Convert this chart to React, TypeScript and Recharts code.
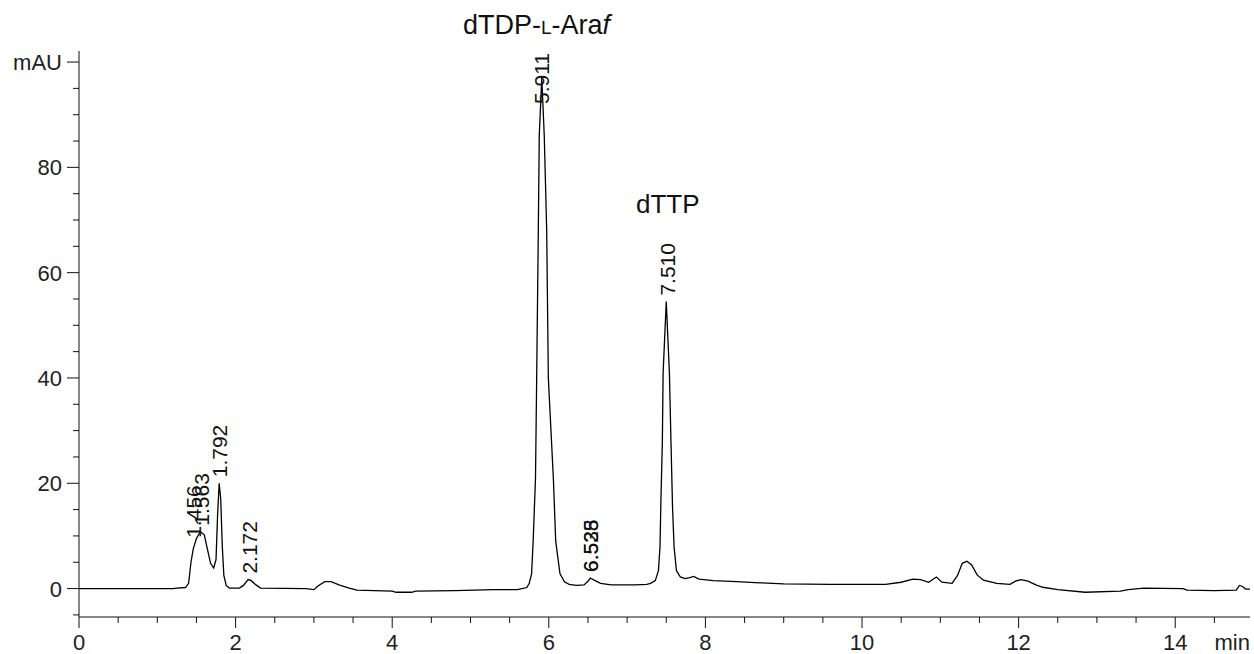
import { ComposedChart, Line, Scatter, XAxis, YAxis } from "recharts"

// retention time (min) / absorbance (mAU)
const times = [
    0, 1.2, 1.25, 1.36, 1.4, 1.43, 1.46, 1.5, 1.55, 1.6, 1.64, 1.68, 1.72, 1.75, 1.77, 1.79, 1.81, 1.83, 1.85, 1.88,
    1.92, 2.05, 2.1, 2.16, 2.2, 2.26, 2.32, 2.9, 3.0, 3.06, 3.14, 3.22, 3.32, 3.45, 3.55, 4.0, 4.05, 4.25, 4.3, 4.8,
    5.3, 5.6, 5.72, 5.75, 5.78, 5.8, 5.83, 5.845, 5.866, 5.878, 5.91, 5.942, 5.973, 5.994, 6.058, 6.088, 6.143, 6.2, 6.26, 6.35,
    6.45, 6.5, 6.53, 6.58, 6.66, 6.8, 7.1, 7.25, 7.3, 7.36, 7.4, 7.42, 7.43, 7.45, 7.46, 7.5, 7.54, 7.56, 7.58, 7.6,
    7.63, 7.68, 7.74, 7.8, 7.85, 7.92, 8.1, 8.4, 8.7, 9.0, 9.6, 10.3, 10.5, 10.65, 10.75, 10.85, 10.95, 11.02, 11.15, 11.22,
    11.28, 11.34, 11.4, 11.47, 11.55, 11.72, 11.89, 11.96, 12.03, 12.12, 12.22, 12.31, 12.5, 12.85, 13.3, 13.4, 13.6, 14.1, 14.15, 14.5,
    14.78, 14.82, 14.86, 14.9, 14.955
]
const absorbance = [
    0, 0, 0.1, 0.2, 1.0, 5.0, 7.6, 9.5, 10.8, 10.2, 7.5, 4.8, 3.9, 5.5, 14, 20, 17, 8, 2.5, 0.6,
    0.1, 0.1, 0.6, 1.7, 1.5, 0.7, 0.1, 0, -0.2, 0.6, 1.3, 1.3, 0.7, 0.1, -0.3, -0.5, -0.7, -0.7, -0.5, -0.4,
    -0.2, -0.2, 0.2, 1.0, 2.8, 9, 21, 40, 68, 86, 97, 86, 68, 40, 21, 9, 2.8, 1.3, 0.8, 0.6,
    0.7, 1.4, 2.0, 1.6, 1.0, 0.7, 0.7, 0.8, 1.0, 1.5, 3.4, 7.9, 15.5, 28, 41, 54.5, 41, 28, 15.5, 7.9,
    3.4, 2.2, 1.9, 2.1, 2.3, 1.8, 1.5, 1.3, 1.1, 0.9, 0.8, 0.8, 1.2, 1.8, 1.7, 1.2, 2.2, 1.2, 1.0, 2.5,
    4.8, 5.2, 4.5, 2.6, 1.6, 1.0, 0.8, 1.4, 1.7, 1.4, 0.7, 0.25, -0.2, -0.7, -0.5, -0.2, 0.1, 0, -0.3, -0.4,
    -0.3, 0.6, 0.4, -0.1, -0.1
]

const peakTimes = [1.456, 1.563, 1.792, 2.172, 5.911, 6.528, 6.535, 7.51]
const peakHeights = [8.5, 10.8, 20, 1.7, 97, 2.0, 2.0, 54.5]
const peakLabels = ["1.456", "1.563", "1.792", "2.172", "5.911", "6.528", "6.535", "7.510"]

const xTicks = [0, 0.5, 1, 1.5, 2, 2.5, 3, 3.5, 4, 4.5, 5, 5.5, 6, 6.5, 7, 7.5, 8, 8.5, 9, 9.5, 10, 10.5, 11, 11.5, 12, 12.5, 13, 13.5, 14, 14.5]
const yTicks = [-5, 0, 5, 10, 15, 20, 25, 30, 35, 40, 45, 50, 55, 60, 65, 70, 75, 80, 85, 90, 95, 100]

const trace = times.map((t, i) => ({ t, v: absorbance[i] }))
const peaks = peakTimes.map((t, i) => ({ t, v: peakHeights[i], label: peakLabels[i] }))

const FONT = '"Liberation Sans", Arial, sans-serif'
const PLOT_TOP = 51

function XTick({ x, y, payload }: any) {
    const major = payload.value % 2 === 0
    return (
        <g>
            <line x1={x} x2={x} y1={y} y2={y + (major ? 11 : 6)} stroke="#111" strokeWidth={1} />
            {major && (
                <text x={x} y={y + 33} textAnchor="middle" fontSize={22} fill="#222" fontFamily={FONT}>
                    {payload.value}
                </text>
            )}
        </g>
    )
}

function YTick({ x, y, payload }: any) {
    const major = payload.value % 20 === 0
    return (
        <g>
            <line x1={x} x2={x - (major ? 12 : 6)} y1={y} y2={y} stroke="#111" strokeWidth={1} />
            {major && (
                <text x={x - 17} y={y + 8} textAnchor="end" fontSize={22} fill="#222" fontFamily={FONT}>
                    {payload.value === 100 ? "mAU" : payload.value}
                </text>
            )}
        </g>
    )
}

function PeakLabel({ cx, cy, payload }: any) {
    const bottom = Math.max(cy - 6, PLOT_TOP + 53)
    return (
        <text
            transform={`translate(${cx + 7.5}, ${bottom}) rotate(-90)`}
            fontSize={21}
            fill="#111"
            fontFamily={FONT}
        >
            {payload.label}
        </text>
    )
}

export default function App() {

    return (

        <div style={{ position: "absolute", left: 0, top: 0, width: 1254, height: 654, background: "#fff", fontFamily: FONT }}>

            <div style={{ position: "absolute", left: 463, top: 12, fontSize: 27, lineHeight: 1, color: "#111", whiteSpace: "nowrap" }}>
                dTDP-<span style={{ fontVariant: "small-caps" }}>l</span>-Ara<i>f</i>
            </div>

            <div style={{ position: "absolute", left: 636, top: 191, fontSize: 26, lineHeight: 1, color: "#111" }}>
                dTTP
            </div>

            <ComposedChart width={1254} height={654} data={trace} margin={{ top: PLOT_TOP, right: 4, bottom: 0, left: 0 }}>

                <XAxis
                    type="number"
                    dataKey="t"
                    domain={[0, 14.955]}
                    allowDataOverflow
                    ticks={xTicks}
                    interval={0}
                    height={37}
                    tickSize={0}
                    tickMargin={0}
                    tickLine={false}
                    tick={<XTick />}
                    axisLine={{ stroke: "#111", strokeWidth: 1 }}
                    label={(props: any) => {
                        const vb = props.viewBox
                        return (
                            <text x={vb.x + vb.width} y={vb.y + 33} textAnchor="end" fontSize={22} fill="#222" fontFamily={FONT}>
                                min
                            </text>
                        )
                    }}
                />

                <YAxis
                    type="number"
                    domain={[-5.4, 102.1]}
                    allowDataOverflow
                    ticks={yTicks}
                    interval={0}
                    width={79}
                    tickSize={0}
                    tickMargin={0}
                    tickLine={false}
                    tick={<YTick />}
                    axisLine={{ stroke: "#111", strokeWidth: 1 }}
                />

                <Line type="linear" dataKey="v" stroke="#000" strokeWidth={1.3} dot={false} isAnimationActive={false} />

                <Scatter data={peaks} dataKey="v" shape={(p: any) => <PeakLabel {...p} />} isAnimationActive={false} />

            </ComposedChart>

        </div>

    )

}
